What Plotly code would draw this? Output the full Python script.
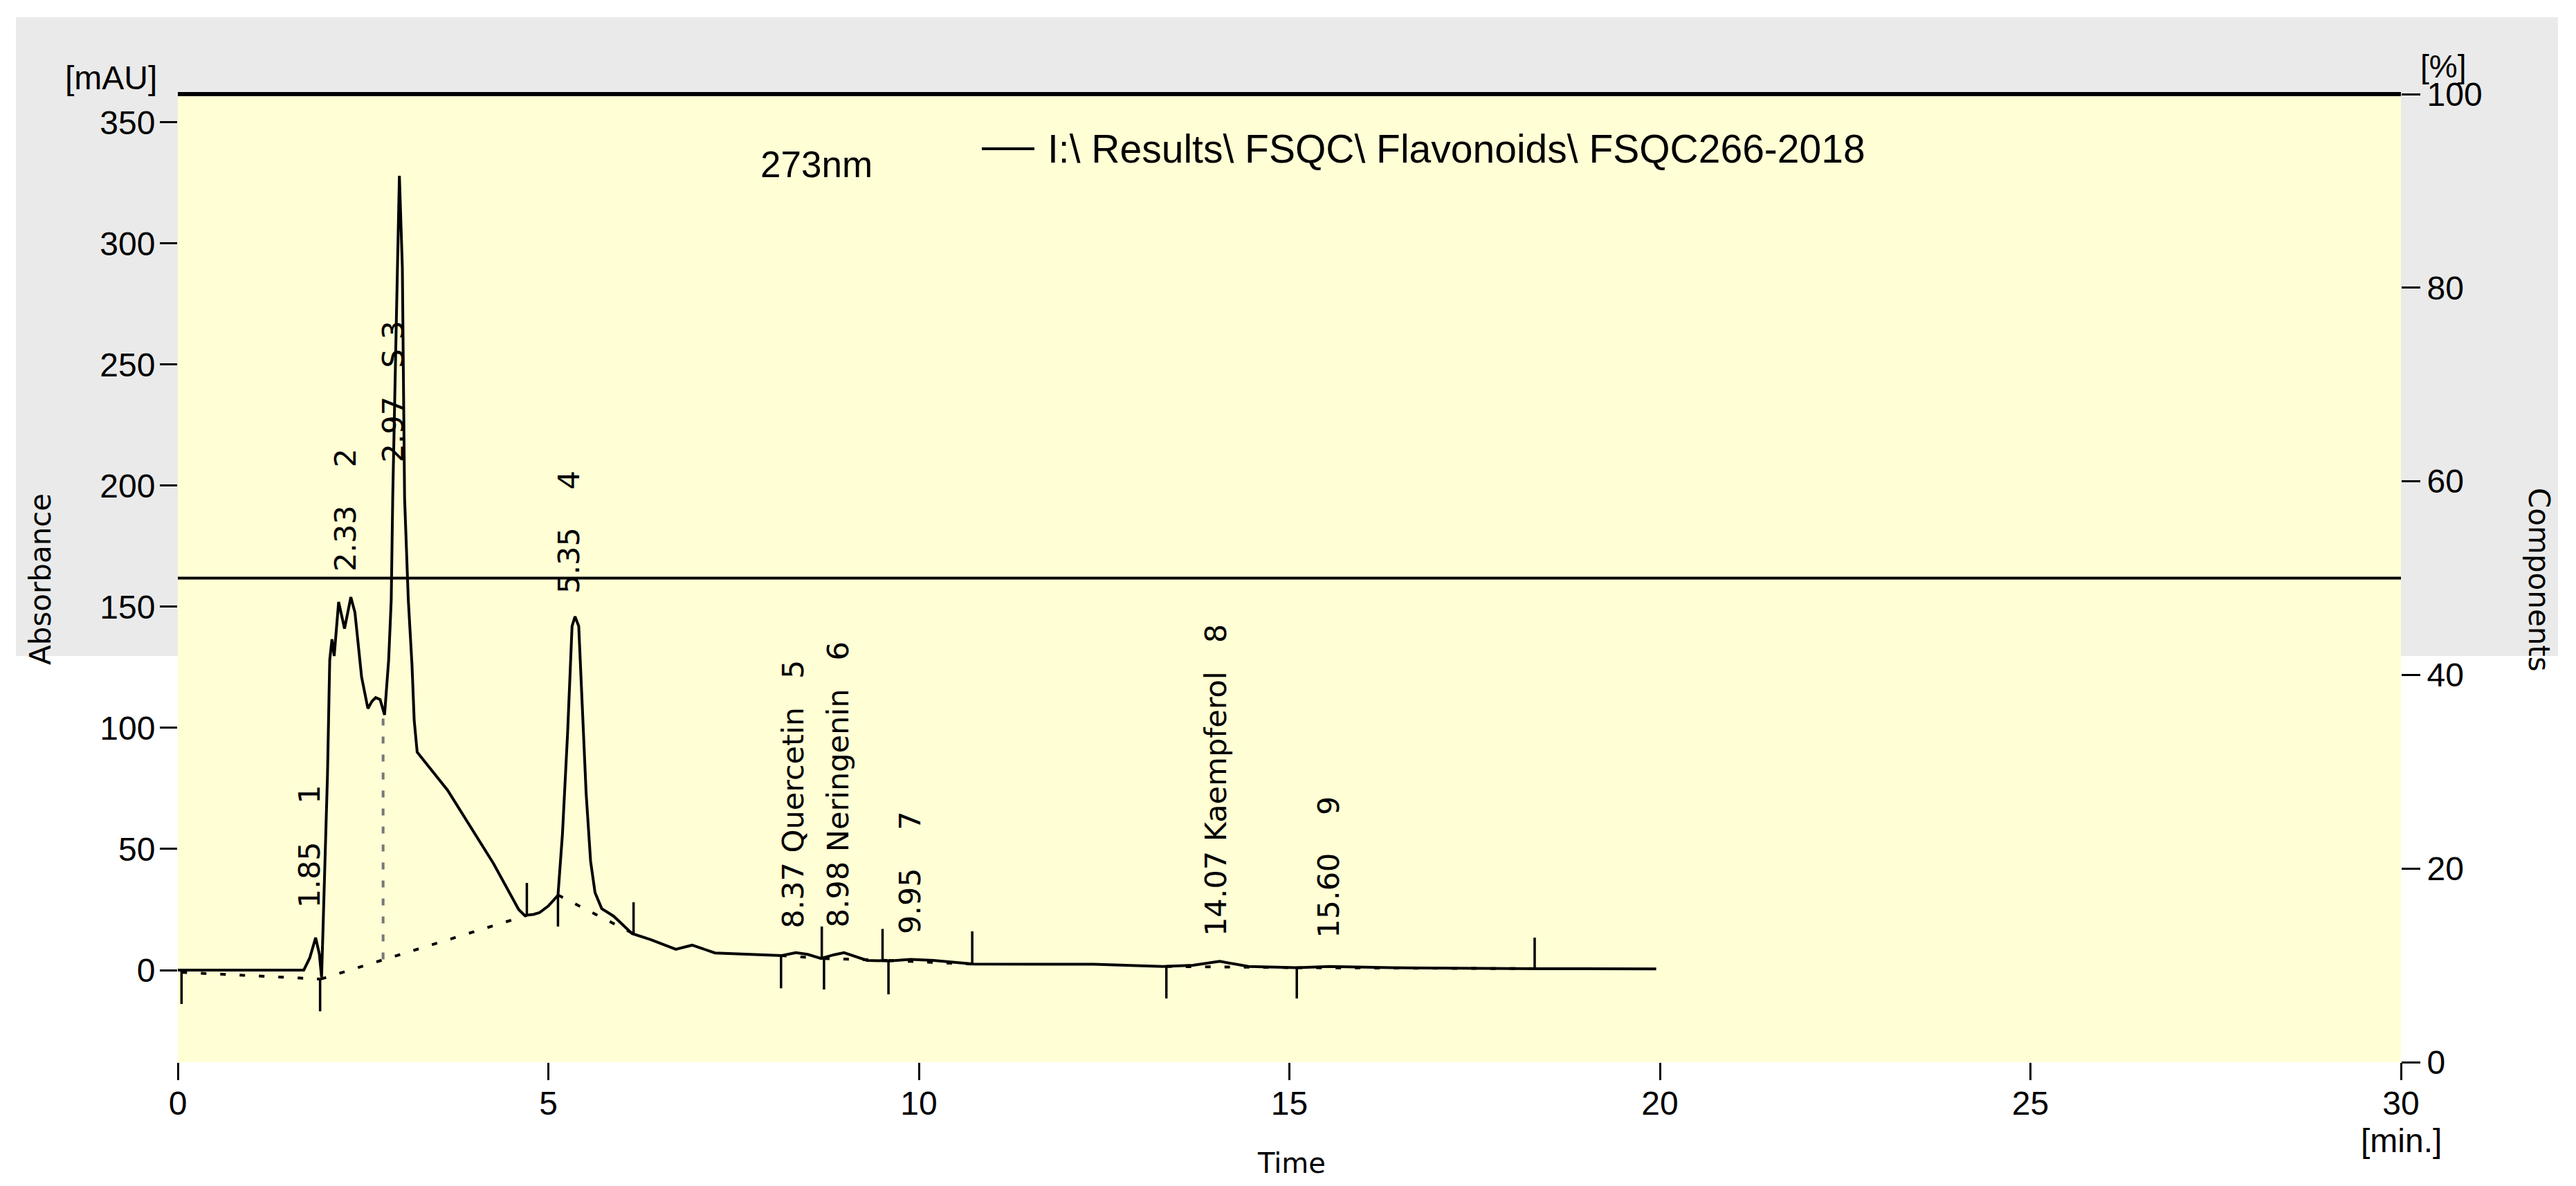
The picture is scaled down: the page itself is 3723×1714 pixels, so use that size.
import plotly.graph_objects as go

# ---------------- data ----------------
time_min = [0.0, 1.70, 1.78, 1.86, 1.91, 1.94, 1.96, 2.02, 2.05, 2.08, 2.11, 2.17, 2.25, 2.335,
            2.39, 2.48, 2.565, 2.62, 2.67, 2.73, 2.79, 2.845, 2.88, 2.90, 2.95, 2.99, 3.03,
            3.06, 3.11, 3.16, 3.19, 3.23, 3.64, 4.26, 4.60, 4.68, 4.80, 4.88, 5.00, 5.13,
            5.19, 5.26, 5.32, 5.36, 5.41, 5.46, 5.51, 5.57, 5.63, 5.72, 5.88, 6.13, 6.38,
            6.72, 6.94, 7.25, 7.87, 8.15, 8.34, 8.50, 8.68, 8.85, 8.99, 9.15, 9.30, 9.60,
            9.89, 10.20, 10.74, 12.36, 13.29, 13.70, 14.06, 14.45, 15.11, 15.54, 16.39,
            18.32, 19.95]
absorbance = [0.0, 0.0, 5.0, 13.4, 6.6, -3.0, 17.7, 81, 128, 136.6, 129.7, 152, 141, 154,
              147.7, 121, 108, 111, 112.5, 111.7, 105.4, 128, 153, 195, 270, 328, 290,
              195, 153, 126, 103, 90, 74.3, 44, 25, 22.6, 23, 23.7, 26.5, 30.9,
              56, 98, 142, 146, 142, 105, 73, 45, 32, 25.4, 22.3, 15.1, 12.6,
              8.6, 10.3, 7.1, 6.3, 6.0, 7.2, 6.5, 4.8, 6.3, 7.2, 5.5, 4.0, 3.8,
              4.4, 4.0, 2.5, 2.4, 1.5, 2.0, 3.6, 1.5, 1.0, 1.5, 1.0,
              0.6, 0.5]

peak_rt = [1.85, 2.33, 2.97, 5.35, 8.37, 8.98, 9.95, 14.07, 15.60]
NB = "\u00a0"
peak_label = ["1.85" + NB * 4 + "1",
              "2.33" + NB * 4 + "2",
              "2.97" + NB * 3 + "S" + NB + "3",
              "5.35" + NB * 4 + "4",
              "8.37 Quercetin" + NB * 3 + "5",
              "8.98 Neringenin" + NB * 3 + "6",
              "9.95" + NB * 4 + "7",
              "14.07 Kaempferol" + NB * 3 + "8",
              "15.60" + NB * 4 + "9"]
label_base = [25, 164, 209, 155, 16.6, 16.9, 14.3, 13.4, 12.6]

# integration markers (time, from, to)
marker_t = [0.05, 1.92, 4.71, 5.13, 6.15, 8.14, 8.69, 8.72, 9.51, 9.59, 10.72, 13.34, 15.10, 18.31]
marker_from = [0, -3.7, 22.6, 31, 15, 6.0, 4.8, 4.8, 4.0, 4.0, 2.5, 1.5, 1.0, 0.6]
marker_to = [-14, -17, 36, 18, 28, -7.5, 18, -8, 17, -10, 16, -11.7, -11.7, 13.4]

# baselines (t0, v0, t1, v1)
base_t0 = [0.05, 1.93, 5.13, 8.14, 8.72, 9.59, 13.34, 15.10]
base_v0 = [-0.9, -3.7, 31, 6.0, 4.8, 4.0, 1.5, 1.0]
base_t1 = [1.93, 4.71, 6.15, 8.72, 9.59, 10.72, 15.10, 18.31]
base_v1 = [-3.7, 22.6, 15, 4.8, 4.0, 2.5, 1.0, 0.6]

drop_t = [2.77]
drop_v0 = [4.4]
drop_v1 = [105]

x_ticks = [0, 5, 10, 15, 20, 25, 30]
y_ticks = [0, 50, 100, 150, 200, 250, 300, 350]
y2_ticks = [0, 20, 40, 60, 80, 100]
components_level = 50

# ---------------- layout geometry ----------------
W, H = 3723, 1714
L, R, T, B = 257, 3470, 136, 1535


def px(x):
    return (x - L) / (R - L)


def py(y):
    return (B - y) / (B - T)


ARIAL = "Liberation Sans, Arial, sans-serif"
VERD = "DejaVu Sans, Verdana, sans-serif"

fig = go.Figure()

# chromatogram
fig.add_trace(go.Scatter(x=time_min, y=absorbance, mode="lines",
                         line=dict(color="black", width=4), showlegend=False))

# baselines
bx, by = [], []
for a, b, c, d in zip(base_t0, base_v0, base_t1, base_v1):
    bx += [a, c, None]
    by += [b, d, None]
fig.add_trace(go.Scatter(x=bx, y=by, mode="lines",
                         line=dict(color="black", width=4, dash="8px,20px"), showlegend=False))

# drop line
dx, dy = [], []
for a, b, c in zip(drop_t, drop_v0, drop_v1):
    dx += [a, a, None]
    dy += [b, c, None]
fig.add_trace(go.Scatter(x=dx, y=dy, mode="lines",
                         line=dict(color="#777777", width=4, dash="10px,16px"), showlegend=False))

# markers
mx, my = [], []
for a, b, c in zip(marker_t, marker_from, marker_to):
    mx += [a, a, None]
    my += [b, c, None]
fig.add_trace(go.Scatter(x=mx, y=my, mode="lines",
                         line=dict(color="black", width=3.5), showlegend=False))

# components line on right axis
fig.add_trace(go.Scatter(x=[0, 30], y=[components_level, components_level], mode="lines",
                         yaxis="y2", line=dict(color="black", width=4), showlegend=False))

# peak labels
for rt, lab, yb in zip(peak_rt, peak_label, label_base):
    fig.add_annotation(x=rt - 0.07, y=yb, xref="x", yref="y", text=lab, textangle=-90,
                       xanchor="center", yanchor="bottom", showarrow=False,
                       font=dict(family=VERD, size=43, color="black"))


# text annotations
def ann(text, x, y, family, size, angle=0, xanchor="center"):
    fig.add_annotation(x=px(x), y=py(y), xref="paper", yref="paper", text=text,
                       textangle=angle, showarrow=False, xanchor=xanchor, yanchor="middle",
                       font=dict(family=family, size=size, color="black"))


ann("[mAU]", 229, 112, ARIAL, 48, xanchor="right")
ann("[%]", 3496, 96, ARIAL, 46, xanchor="left")
ann("[min.]", 3470, 1648, ARIAL, 48)
ann("Time", 1866, 1681, VERD, 40)
ann("Absorbance", 58, 837, VERD, 42, angle=-90)
ann("Components", 3670, 838, VERD, 42, angle=90)
ann("273nm", 1180, 238, ARIAL, 53)
ann("I:\\ Results\\ FSQC\\ Flavonoids\\ FSQC266-2018", 1512, 215, ARIAL, 57, xanchor="left")

shapes = [
    dict(type="rect", xref="paper", yref="paper", x0=px(23), x1=px(3697), y0=py(948), y1=py(25),
         fillcolor="#EAEAEA", line=dict(width=0), layer="below"),
    dict(type="rect", xref="paper", yref="paper", x0=0, x1=1, y0=0, y1=1,
         fillcolor="#FFFED5", line=dict(width=0), layer="below"),
    dict(type="line", xref="paper", yref="paper", x0=0, x1=1, y0=1, y1=1,
         line=dict(color="black", width=6)),
    dict(type="line", xref="paper", yref="paper", x0=px(1419), x1=px(1495), y0=py(215), y1=py(215),
         line=dict(color="black", width=4)),
]

fig.update_layout(
    width=W, height=H, autosize=False,
    margin=dict(l=L, r=W - R, t=T, b=H - B, pad=0),
    paper_bgcolor="white", plot_bgcolor="rgba(0,0,0,0)",
    shapes=shapes, showlegend=False,
    xaxis=dict(range=[0, 30], tickvals=x_ticks, ticktext=[str(v) for v in x_ticks],
               ticks="outside", ticklen=25, tickwidth=3, tickcolor="black",
               showgrid=False, zeroline=False, showline=False, ticklabelstandoff=-8,
               tickfont=dict(family=ARIAL, size=48, color="black")),
    yaxis=dict(range=[-38, 361.7], tickvals=y_ticks, ticktext=[str(v) for v in y_ticks],
               ticks="outside", ticklen=25, tickwidth=3, tickcolor="black",
               showgrid=False, zeroline=False, showline=False, ticklabelstandoff=-3,
               tickfont=dict(family=ARIAL, size=48, color="black")),
    yaxis2=dict(range=[0, 100], overlaying="y", side="right", tickvals=y2_ticks,
                ticktext=[str(v) for v in y2_ticks],
                ticks="outside", ticklen=27, tickwidth=3, tickcolor="black",
                showgrid=False, zeroline=False, showline=False, ticklabelstandoff=0,
                tickfont=dict(family=ARIAL, size=48, color="black")),
)

fig.write_html("out.html", config={"displayModeBar": False},
               post_script="document.body.style.margin='0';document.body.style.overflow='hidden';")
